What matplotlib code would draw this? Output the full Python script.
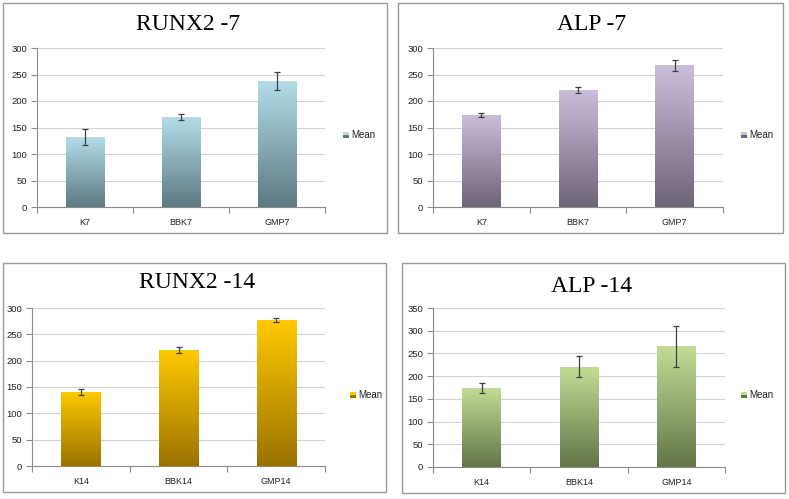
import matplotlib
matplotlib.use("Agg")
import matplotlib.pyplot as plt
import numpy as np
from matplotlib.patches import Rectangle
from matplotlib.colors import LinearSegmentedColormap

W, H = 789, 499
fig = plt.figure(figsize=(W / 100, H / 100), dpi=100)

# ---- data ----
titles = ["RUNX2 -7", "ALP -7", "RUNX2 -14", "ALP -14"]
cats_7 = ["K7", "BBK7", "GMP7"]
cats_14 = ["K14", "BBK14", "GMP14"]
runx2_7 = [132, 170, 238]
runx2_7_err = [15, 5, 17]
alp_7 = [174, 221, 267]
alp_7_err = [4, 6, 10]
runx2_14 = [141, 220, 277]
runx2_14_err = [6, 5, 4]
alp_14 = [174, 221, 266]
alp_14_err = [11, 23, 45]
ymax = [300, 300, 300, 350]
legend_label = "Mean"

panels = [
    dict(cats=cats_7, vals=runx2_7, err=runx2_7_err, title=titles[0], ymax=ymax[0],
         border=(3, 3, 387, 233), ax=(37, 48, 325, 207), title_xy=(188, 24), leg=(343, 135),
         top="#b3dee9", bot="#5d7982"),
    dict(cats=cats_7, vals=alp_7, err=alp_7_err, title=titles[1], ymax=ymax[1],
         border=(398, 3, 783, 233), ax=(433, 48, 723, 207), title_xy=(592, 24), leg=(741, 135),
         top="#cbbedc", bot="#6e6477"),
    dict(cats=cats_14, vals=runx2_14, err=runx2_14_err, title=titles[2], ymax=ymax[2],
         border=(3, 263, 386, 492), ax=(32, 308, 325, 466), title_xy=(197, 283), leg=(350, 395),
         top="#ffca00", bot="#9a7200"),
    dict(cats=cats_14, vals=alp_14, err=alp_14_err, title=titles[3], ymax=ymax[3],
         border=(402, 263, 785, 493), ax=(433, 308, 725, 467), title_xy=(592, 287), leg=(741, 395),
         top="#c3dd96", bot="#637548"),
]

def fx(px):
    return px / W

def fy(py):
    return 1 - py / H

for p in panels:
    x0, y0, x1, y1 = p["border"]
    fig.patches.append(Rectangle((fx(x0), fy(y1)), fx(x1) - fx(x0), fy(y0) - fy(y1),
                                 transform=fig.transFigure, fill=False,
                                 edgecolor="#9a9a9a", linewidth=1.0))
    ax0, ay0, ax1, ay1 = p["ax"]
    ax = fig.add_axes([fx(ax0), fy(ay1), fx(ax1) - fx(ax0), fy(ay0) - fy(ay1)])
    n = len(p["cats"])
    x = np.arange(n)
    bars = ax.bar(x, p["vals"], width=0.4, color="none", edgecolor="none", zorder=2)
    cmap = LinearSegmentedColormap.from_list("g", [p["bot"], p["top"]])
    grad = np.linspace(0, 1, 256).reshape(-1, 1)
    for b in bars:
        bx, by = b.get_x(), b.get_y()
        bw, bh = b.get_width(), b.get_height()
        im = ax.imshow(grad, cmap=cmap, origin="lower", aspect="auto",
                       extent=(bx, bx + bw, by, by + bh), zorder=2)
        im.set_clip_path(b)
    ax.errorbar(x, p["vals"], yerr=p["err"], fmt="none", ecolor="#404040",
                elinewidth=0.9, capsize=2.5, capthick=0.9, zorder=3)
    ax.set_xlim(-0.5, n - 0.5)
    ax.set_ylim(0, p["ymax"])
    ax.set_yticks(np.arange(0, p["ymax"] + 1, 50))
    ax.yaxis.grid(True, color="#d4d4d4", linewidth=0.8)
    ax.set_axisbelow(True)
    ax.set_xticks(x)
    ax.set_xticklabels(p["cats"], fontsize=6.5, family="Liberation Sans", color="#222222")
    ax.set_xticks(np.arange(-0.5, n, 1.0), minor=True)
    ax.tick_params(axis="x", which="major", length=0, pad=8)
    ax.tick_params(axis="x", which="minor", length=4, color="#8c8c8c", width=0.8)
    ax.tick_params(axis="y", length=4, color="#8c8c8c", width=0.8, labelsize=6.8, pad=3,
                   labelcolor="#222222")
    for lab in ax.get_yticklabels():
        lab.set_family("Liberation Sans")
    for s in ["top", "right"]:
        ax.spines[s].set_visible(False)
    for s in ["left", "bottom"]:
        ax.spines[s].set_color("#8c8c8c")
        ax.spines[s].set_linewidth(0.8)
    fig.text(fx(p["title_xy"][0]), fy(p["title_xy"][1]), p["title"], ha="center", va="center",
             fontsize=17, family="Liberation Serif", color="black")
    lx, ly = p["leg"]
    fig.patches.append(Rectangle((fx(lx), fy(ly + 3)), fx(6), 6 / H, transform=fig.transFigure,
                                 facecolor=p["top"], edgecolor="none"))
    fig.patches.append(Rectangle((fx(lx), fy(ly + 3)), fx(6), 3 / H, transform=fig.transFigure,
                                 facecolor=p["bot"], edgecolor="none"))
    fig.text(fx(lx + 8), fy(ly), legend_label, ha="left", va="center", fontsize=7,
             family="Liberation Sans", color="#222222")

fig.savefig("out.png", dpi=100)
